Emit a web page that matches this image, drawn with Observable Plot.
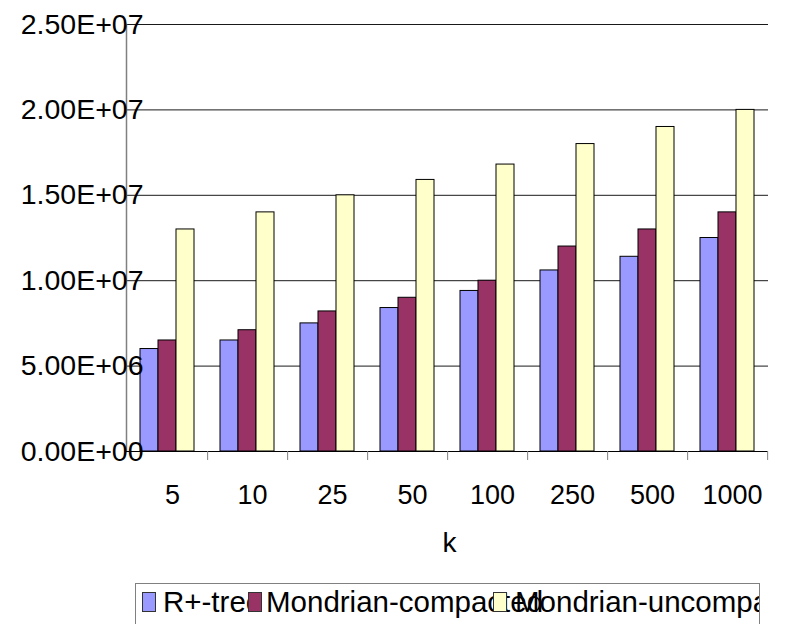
<!DOCTYPE html>
<html>
<head>
<meta charset="utf-8">
<script src="https://cdn.jsdelivr.net/npm/d3@7"></script>
<script src="https://cdn.jsdelivr.net/npm/@observablehq/plot@0.6"></script>
<style>
  html, body { margin: 0; padding: 0; background: #fff; }
  body { width: 785px; height: 624px; overflow: hidden; font-family: "Liberation Sans", Arial, sans-serif; }
  #legend {
    position: relative; margin-left: 135px; margin-top: 8px;
    width: 623px; height: 60px; border: 1px solid #808080; overflow: hidden; background: #fff;
  }
  #legend .sw { position: absolute; top: 8px; width: 12px; height: 18px; border: 1px solid #333; }
  #legend .lb { position: absolute; top: 3px; font-size: 29.5px; line-height: 30px; color: #000; white-space: nowrap; }
</style>
</head>
<body>
<div id="chart"></div>
<div id="legend"></div>
<script>
const ks = ["5", "10", "25", "50", "100", "250", "500", "1000"];
const rtree = [6.0e6, 6.5e6, 7.5e6, 8.4e6, 9.4e6, 10.6e6, 11.4e6, 12.5e6];
const mondrianCompacted = [6.5e6, 7.1e6, 8.2e6, 9.0e6, 10.0e6, 12.0e6, 13.0e6, 14.0e6];
const mondrianUncompacted = [13.0e6, 14.0e6, 15.0e6, 15.9e6, 16.8e6, 18.0e6, 19.0e6, 20.0e6];
const seriesNames = ["R+-tree", "Mondrian-compacted", "Mondrian-uncompacted"];
const seriesColors = ["#9999FF", "#993366", "#FFFFCC"];
const yTicks = [0, 5e6, 1e7, 1.5e7, 2e7, 2.5e7];
const xTitle = "k";

const seriesValues = [rtree, mondrianCompacted, mondrianUncompacted];
const fmt = d => {
  const [m, e] = d.toExponential(2).split("e");
  const sign = e[0] === "-" ? "-" : "+";
  const digits = e.replace(/[+-]/, "").padStart(2, "0");
  return m + "E" + sign + digits;
};

const barW = 18;
const barMarks = seriesValues.map((vals, s) =>
  Plot.barY(ks.map((k, i) => ({k, v: vals[i]})), {
    x: "k", y: "v", fill: seriesColors[s], stroke: "#000", strokeWidth: 1,
    insetLeft: s * barW, insetRight: (2 - s) * barW
  })
);

const chart = Plot.plot({
  width: 785, height: 575,
  marginLeft: 126, marginRight: 17, marginTop: 24, marginBottom: 124,
  style: {fontFamily: "'Liberation Sans', Arial, sans-serif", fontSize: "27px", background: "#fff", color: "#000"},
  x: {domain: ks, paddingInner: 0.327, paddingOuter: 0.1635, label: null},
  y: {domain: [0, 2.5e7], label: null},
  marks: [
    Plot.gridY(yTicks, {stroke: "#000", strokeOpacity: 0.9, strokeWidth: 1}),
    Plot.frame({anchor: "left", stroke: "#808080", strokeWidth: 1.5}),
    ...barMarks,
    Plot.ruleY([0], {stroke: "#000", strokeWidth: 1}),
    Plot.axisX({tickSize: 9, dx: 40.125, tickFormat: () => "", stroke: "#808080"}),
    Plot.axisX({tickSize: 0, tickPadding: 33, dx: 5, fontSize: 27, label: null}),
    Plot.text([xTitle], {frameAnchor: "bottom", dy: 100, dx: 2, fontSize: 28, fill: "#000"}),
    Plot.axisY(yTicks, {tickSize: 0, tickPadding: -17, tickFormat: fmt, fontSize: 28.5, label: null})
  ]
});
document.getElementById("chart").appendChild(chart);

const swLeft = [6, 112, 357];
const lbLeft = [27, 130, 379];
const legend = document.getElementById("legend");
seriesNames.forEach((name, i) => {
  const sw = document.createElement("div");
  sw.className = "sw";
  sw.style.left = swLeft[i] + "px";
  sw.style.background = seriesColors[i];
  legend.appendChild(sw);
  const lb = document.createElement("div");
  lb.className = "lb";
  lb.style.left = lbLeft[i] + "px";
  lb.textContent = name;
  legend.appendChild(lb);
});
</script>
</body>
</html>
